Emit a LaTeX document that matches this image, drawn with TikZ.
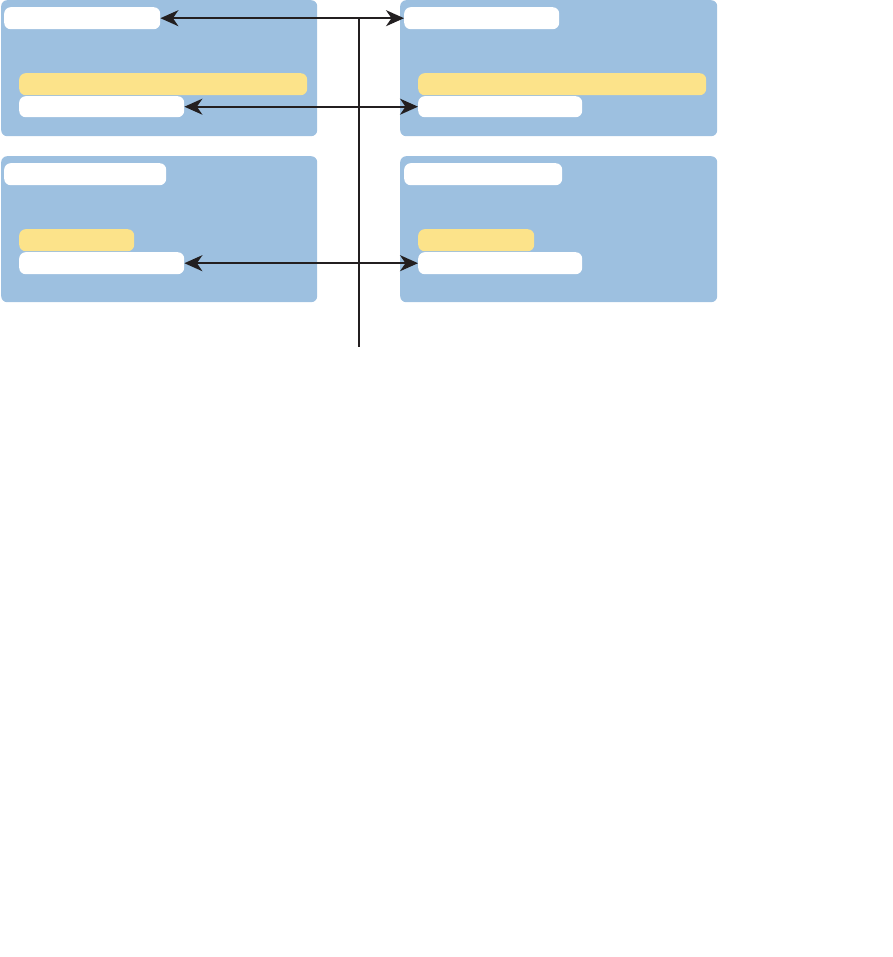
\documentclass[tikz,border=0pt]{standalone}
\usetikzlibrary{arrows.meta}
\definecolor{panelblue}{HTML}{9DC0E0}
\definecolor{pillyellow}{HTML}{FCE38A}
\definecolor{linedark}{HTML}{231F20}
\begin{document}
\begin{tikzpicture}[x=1pt,y=-1pt,
  panel/.style={fill=panelblue, draw=none, rounded corners=6pt, inner sep=0pt, anchor=north west},
  whitepill/.style={fill=white, draw=none, rounded corners=6.5pt, inner sep=0pt, minimum height=22pt, anchor=north west},
  yellowpill/.style={fill=pillyellow, draw=none, rounded corners=6.5pt, inner sep=0pt, minimum height=22pt, anchor=north west},
  link/.style={draw=linedark, line width=1.8pt, {Stealth[length=18pt,width=16pt,inset=5.5pt]}-{Stealth[length=18pt,width=16pt,inset=5.5pt]}},
  trunk/.style={draw=linedark, line width=1.8pt}]
\useasboundingbox (0,0) rectangle (892,957);
% panels
\node[panel, minimum width=316pt, minimum height=136pt] (tl) at (1,0) {};
\node[panel, minimum width=317pt, minimum height=136pt] (tr) at (400,0) {};
\node[panel, minimum width=316pt, minimum height=146pt] (bl) at (1,156) {};
\node[panel, minimum width=317pt, minimum height=146pt] (br) at (400,156) {};
% top-left pills
\node[whitepill, minimum width=156pt] (tlA) at (4,7) {};
\node[yellowpill, minimum width=288pt] (tlY) at (19,73) {};
\node[whitepill, minimum width=165pt, minimum height=21pt] (tlB) at (19,96) {};
% top-right pills
\node[whitepill, minimum width=155pt] (trA) at (404,7) {};
\node[yellowpill, minimum width=288pt] (trY) at (418,73) {};
\node[whitepill, minimum width=164pt, minimum height=21pt] (trB) at (418,96) {};
% bottom-left pills
\node[whitepill, minimum width=162pt] (blA) at (4,163) {};
\node[yellowpill, minimum width=115pt] (blY) at (19,229) {};
\node[whitepill, minimum width=165pt] (blB) at (19,252) {};
% bottom-right pills
\node[whitepill, minimum width=158pt] (brA) at (404,163) {};
\node[yellowpill, minimum width=116pt] (brY) at (418,229) {};
\node[whitepill, minimum width=164pt] (brB) at (418,252) {};
% connectors
\coordinate (vbot) at (359,347);
\draw[trunk] (tlA.east -| vbot) -- (vbot);
\draw[link] (tlA.east) -- (trA.west);
\draw[link] (tlB.east) -- (trB.west);
\draw[link] (blB.east) -- (brB.west);
\end{tikzpicture}
\end{document}
